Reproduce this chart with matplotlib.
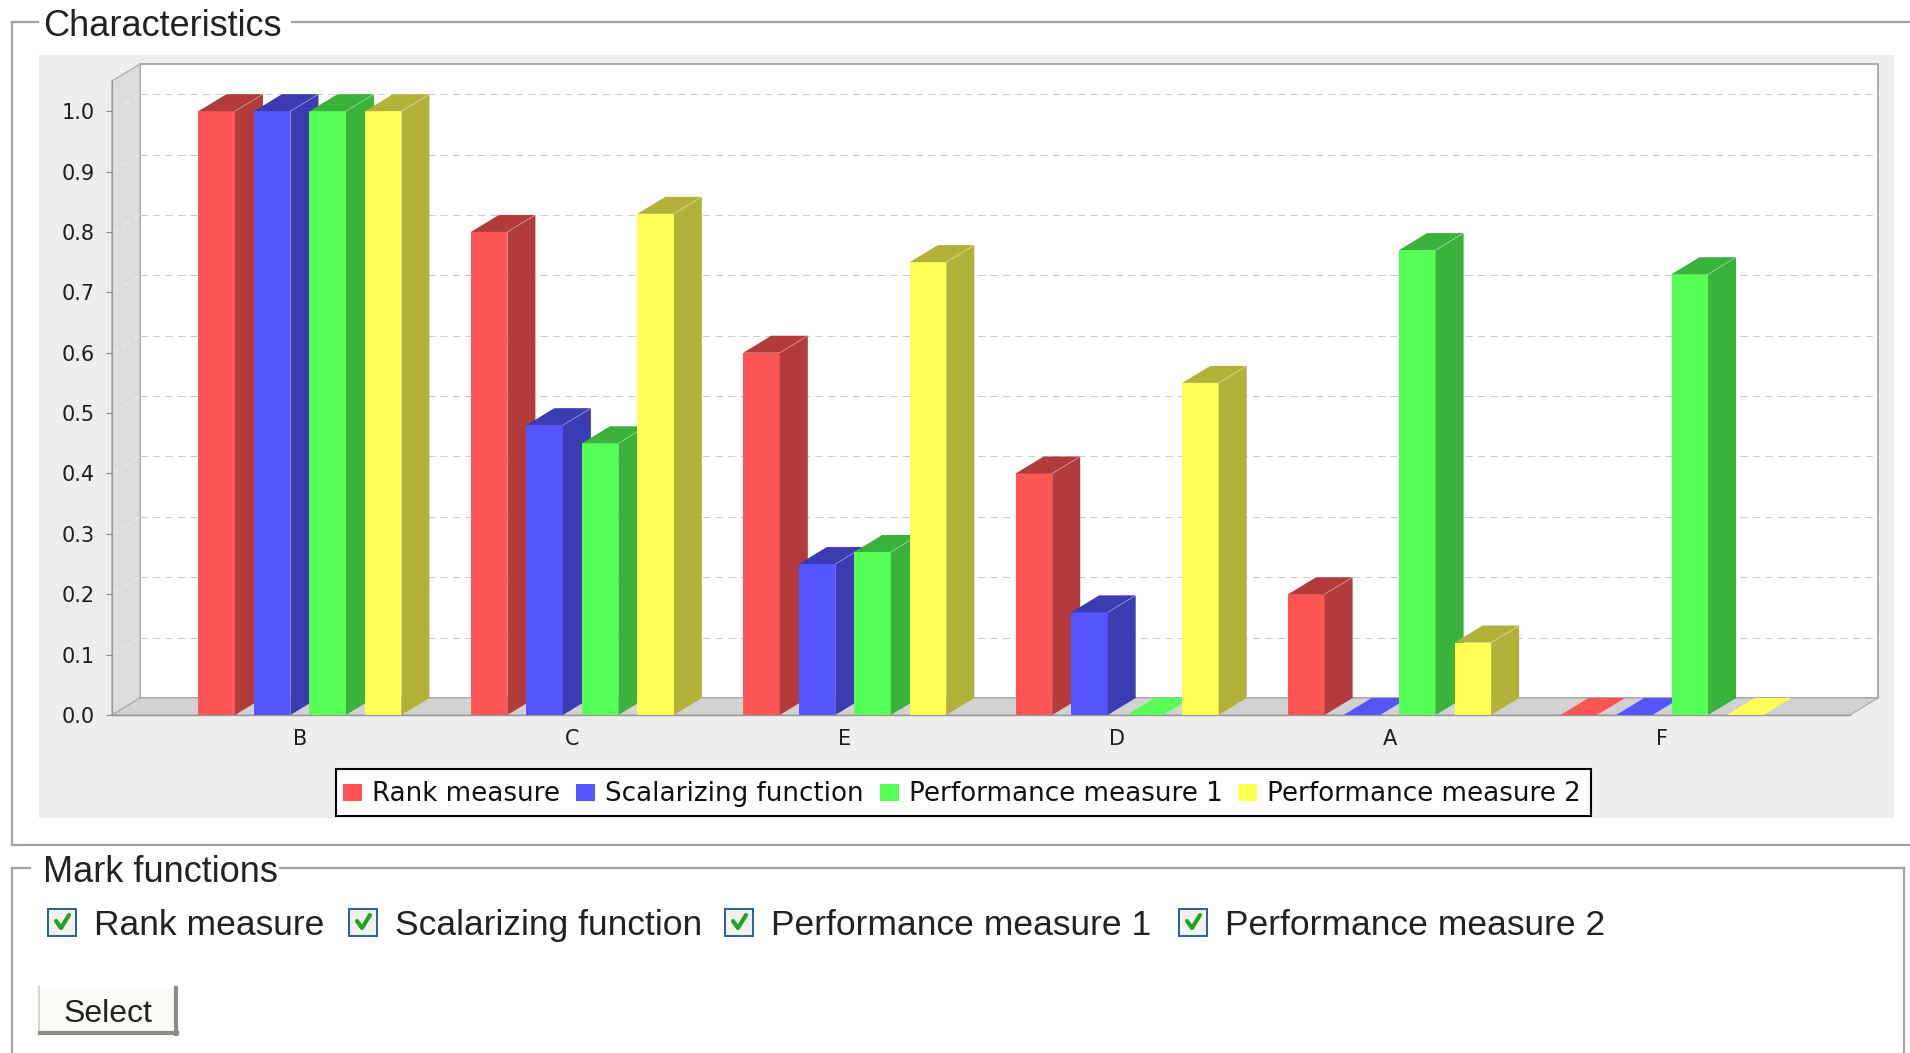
import matplotlib
matplotlib.use("Agg")
import matplotlib.pyplot as plt
from matplotlib.patches import Rectangle, Polygon
from matplotlib.lines import Line2D

# ---- data -------------------------------------------------------------
categories = ["B", "C", "E", "D", "A", "F"]
series_names = ["Rank measure", "Scalarizing function",
                "Performance measure 1", "Performance measure 2"]
rank_measure = [1.0, 0.8, 0.6, 0.4, 0.2, 0.0]
scalarizing_function = [1.0, 0.48, 0.25, 0.17, 0.0, 0.0]
performance_measure_1 = [1.0, 0.45, 0.27, 0.0, 0.77, 0.73]
performance_measure_2 = [1.0, 0.83, 0.75, 0.55, 0.12, 0.0]
y_ticks = [0.0, 0.1, 0.2, 0.3, 0.4, 0.5, 0.6, 0.7, 0.8, 0.9, 1.0]
y_tick_labels = ["0.0", "0.1", "0.2", "0.3", "0.4", "0.5",
                 "0.6", "0.7", "0.8", "0.9", "1.0"]
y_max = 1.05

series_values = [rank_measure, scalarizing_function,
                 performance_measure_1, performance_measure_2]
face_colors = ["#FF5555", "#5555FF", "#55FF55", "#FFFF55"]
dark_colors = ["#B23B3B", "#3B3BB2", "#3BB23B", "#B2B23B"]

# ---- figure and pixel-space canvas for the surrounding panel ------------
W, H = 1910, 1053
fig = plt.figure(figsize=(W / 100, H / 100), dpi=100)
fig.patch.set_facecolor("white")
ui = fig.add_axes([0, 0, 1, 1])
ui.set_xlim(0, W)
ui.set_ylim(H, 0)
ui.axis("off")
ui.set_zorder(0)

UI_FONT = "Liberation Sans"
frame_col = "#a3a39b"

# "Characteristics" group box
ui.add_line(Line2D([12, 38], [22, 22], color=frame_col, lw=1.6))
ui.add_line(Line2D([292, W], [22, 22], color=frame_col, lw=1.6))
ui.add_line(Line2D([12, 12], [22, 845], color=frame_col, lw=1.6))
ui.add_line(Line2D([12, W], [845, 845], color=frame_col, lw=1.6))
ui.text(43, 36, "Characteristics", family=UI_FONT, fontsize=26,
        color="#222222", va="baseline", ha="left")

# chart panel background
ui.add_patch(Rectangle((39, 55), 1855, 763, facecolor="#eeeeee",
                       edgecolor="none"))

# "Mark functions" group box
ui.add_line(Line2D([12, 30], [868, 868], color=frame_col, lw=1.6))
ui.add_line(Line2D([280, 1904], [868, 868], color=frame_col, lw=1.6))
ui.add_line(Line2D([12, 12], [868, H], color=frame_col, lw=1.6))
ui.add_line(Line2D([1904, 1904], [868, H], color=frame_col, lw=1.6))
ui.text(43, 882, "Mark functions", family=UI_FONT, fontsize=26,
        color="#222222", va="baseline", ha="left")

# checkboxes with labels
check_x = [48, 349, 725, 1179]
for cx, name in zip(check_x, series_names):
    ui.add_patch(Rectangle((cx, 909), 28, 27, facecolor="#f2f2ec",
                           edgecolor="#2a5f96", lw=1.4))
    ui.add_line(Line2D([cx + 8, cx + 13, cx + 21], [921, 928, 915],
                       color="#21a321", lw=3.0, solid_capstyle="round"))
    ui.text(cx + 46, 935, name, family=UI_FONT, fontsize=25.5,
            color="#222222", va="baseline", ha="left")

# "Select" button
ui.add_patch(Rectangle((39, 987), 138, 47, facecolor="#fbfbf7",
                       edgecolor="none"))
ui.add_line(Line2D([39, 177], [987, 987], color="#ffffff", lw=1.5))
ui.add_line(Line2D([39, 39], [987, 1034], color="#d8d8d0", lw=1.5))
ui.add_line(Line2D([176, 176], [988, 1034], color="#8c8c84", lw=3))
ui.add_line(Line2D([40, 177], [1033, 1033], color="#8c8c84", lw=3))
ui.text(108, 1022, "Select", family=UI_FONT, fontsize=23,
        color="#222222", va="baseline", ha="center")

# ---- 3D-style bar chart -------------------------------------------------
x_min, x_max = -0.69, 5.69
ax_l, ax_r, ax_b, ax_t = 112, 1850, 715, 81
ax = fig.add_axes([ax_l / W, 1 - ax_b / H, (ax_r - ax_l) / W,
                   (ax_b - ax_t) / H])
ax.set_zorder(1)
ax.set_facecolor("none")
ax.set_xlim(x_min, x_max)
ax.set_ylim(0, y_max)

px_per_x = (ax_r - ax_l) / (x_max - x_min)
px_per_y = (ax_b - ax_t) / y_max
DX = 28 / px_per_x          # depth offset, horizontal
DY = 17 / px_per_y          # depth offset, vertical

# left wall, back plane, floor
ax.add_patch(Polygon([(x_min, 0), (x_min, y_max), (x_min + DX, y_max + DY),
                      (x_min + DX, DY)], closed=True, facecolor="#dcdcdc",
                     edgecolor="#a8a8a8", lw=0.8, clip_on=False, zorder=0.5))
ax.add_patch(Rectangle((x_min + DX, DY), x_max - x_min, y_max,
                       facecolor="white", edgecolor="#a0a0a0", lw=1.2,
                       clip_on=False, zorder=0.4))
ax.add_patch(Polygon([(x_min, 0), (x_max, 0), (x_max + DX, DY),
                      (x_min + DX, DY)], closed=True, facecolor="#d2d2d2",
                     edgecolor="#a8a8a8", lw=0.8, clip_on=False, zorder=0.6))

# gridlines on back plane and wall
for v in y_ticks[1:]:
    ax.add_line(Line2D([x_min + DX, x_max + DX], [v + DY, v + DY],
                       color="#cccccc", lw=0.75, linestyle=(0, (7, 5)),
                       clip_on=False, zorder=0.7))
    ax.add_line(Line2D([x_min, x_min + DX], [v, v + DY],
                       color="#ececec", lw=0.75, linestyle=(0, (7, 5)),
                       clip_on=False, zorder=0.7))

# bars
pitch = 55.5 / px_per_x
bar_w = 36.5 / px_per_x
for s, (vals, fc, dc) in enumerate(zip(series_values, face_colors,
                                       dark_colors)):
    z = 3 + s * 0.1
    xs = [i + (s - 1.5) * pitch for i in range(len(categories))]
    ax.bar(xs, vals, width=bar_w, color=fc, edgecolor="none", zorder=z,
           clip_on=False)
    for xc, v in zip(xs, vals):
        x0, x1 = xc - bar_w / 2, xc + bar_w / 2
        top_col = fc if v == 0 else dc
        ax.add_patch(Polygon([(x0, v), (x1, v), (x1 + DX, v + DY),
                              (x0 + DX, v + DY)], closed=True,
                             facecolor=top_col, edgecolor="none",
                             zorder=z + 0.05, clip_on=False))
        if v > 0:
            ax.add_patch(Polygon([(x1, 0), (x1, v), (x1 + DX, v + DY),
                                  (x1 + DX, DY)], closed=True,
                                 facecolor=dc, edgecolor="none",
                                 zorder=z + 0.05, clip_on=False))
            ax.add_line(Line2D([x1, x1 + DX], [v, v + DY], color="white",
                               alpha=0.35, lw=0.6, zorder=z + 0.06,
                               clip_on=False))

# axes, ticks and labels
for side in ("top", "right"):
    ax.spines[side].set_visible(False)
for side in ("left", "bottom"):
    ax.spines[side].set_color("#9a9a9a")
    ax.spines[side].set_linewidth(1.0)
    ax.spines[side].set_zorder(2)
ax.set_yticks(y_ticks)
ax.set_yticklabels(y_tick_labels, family="DejaVu Sans", fontsize=15,
                   color="#1e1e1e")
ax.set_xticks(range(len(categories)))
ax.set_xticklabels(categories, family="DejaVu Sans", fontsize=15,
                   color="#1e1e1e")
ax.tick_params(axis="y", length=4.3, width=0.8, color="#8a8a8a", pad=8)
ax.tick_params(axis="x", length=0, pad=10)

# legend laid out left to right in a boxed row
renderer = fig.canvas.get_renderer()
lx = 343
for name, fc in zip(series_names, face_colors):
    ui.add_patch(Rectangle((lx, 784), 19, 17, facecolor=fc,
                           edgecolor="none", zorder=3))
    t = ui.text(lx + 29, 801, name, family="DejaVu Sans", fontsize=18.8,
                color="#111111", va="baseline", ha="left", zorder=3)
    w = t.get_window_extent(renderer=renderer).width
    end = lx + 29 + w
    lx = end + 16
ui.add_patch(Rectangle((336, 769), end + 10 - 336, 47, facecolor="white",
                       edgecolor="black", lw=1.5, zorder=2))

fig.savefig("out.png", dpi=100, facecolor="white")
